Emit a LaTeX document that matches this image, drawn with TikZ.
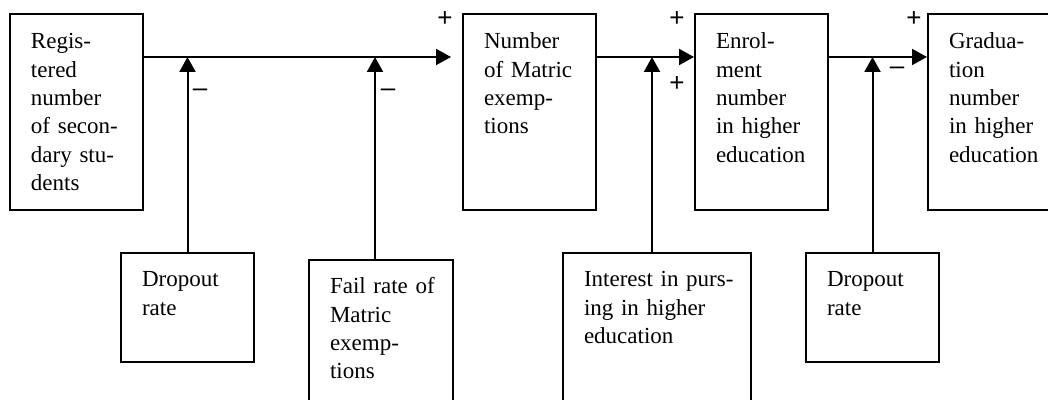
\documentclass[tikz,border=0pt]{standalone}
\usepackage{fontspec}
\setmainfont{Liberation Serif}
\newfontfamily\signfont{Liberation Sans}
\usetikzlibrary{arrows.meta}

\tikzset{
    box/.style={draw, line width=1pt, anchor=north west, align=left,
        inner xsep=10.5pt, inner ysep=0pt, text height=17pt,
        font=\fontsize{11.5}{14.15}\selectfont},
    stock/.style={box, text width=45.5pt, text height=17.5pt, text depth=80.5pt},
    factor/.style={box},
    link/.style={line width=1pt, -{Triangle[length=7.5pt,width=8pt]}},
    sign/.style={anchor=base, inner sep=0pt, font=\signfont\fontsize{13}{15}\selectfont},
}

\begin{document}
\begin{tikzpicture}[x=0.5pt,y=-0.5pt]
        \clip (0,0) rectangle (1048,400);
        %% stocks
        \node[stock] (reg) at (9,13) {Regis-\\tered\\number\\of~secon-\\dary~stu-\\dents};
        \node[stock] (mat) at (462,13) {Number\\of~Matric\\exemp-\\tions};
        \node[stock] (enr) at (694,13) {Enrol-\\ment\\number\\in~higher\\education};
        \node[stock] (grad) at (927,13) {Gradua-\\tion\\number\\in~higher\\education};
        %% factors
        \node[factor, text width=45.5pt, text depth=37.5pt] (drop1) at (120,252) {Dropout\\rate};
        \node[factor, text width=51pt, text depth=63pt] (fail) at (308,259) {\mbox{Fail rate of}\\Matric\\exemp-\\tions};
        \node[factor, text width=73pt, text depth=68pt] (interest) at (562,252) {\mbox{Interest in purs-}\\ing~in~higher\\education};
        \node[factor, text width=45.5pt, text depth=37.5pt] (drop2) at (805,252) {Dropout\\rate};
        %% main flow
        \coordinate (flow) at (0,57);
        \draw[link, shorten >=5.5pt] (reg.east |- flow) -- (mat.west |- flow);
        \draw[link] (mat.east |- flow) -- (enr.west |- flow);
        \draw[link] (enr.east |- flow) -- (grad.west |- flow);
        %% influences
        \coordinate (failtop) at ([xshift=-3pt]fail.north);
        \coordinate (interesttop) at ([xshift=-2.5pt]interest.north);
        \draw[link] (drop1.north) -- (drop1.north |- flow);
        \draw[link] (failtop) -- (failtop |- flow);
        \draw[link] (interesttop) -- (interesttop |- flow);
        \draw[link] (drop2.north) -- (drop2.north |- flow);
        %% signs
        \foreach \x/\y [count=\i] in {445/27, 677/27, 677/92, 914/27}
            \node[sign] (plus\i) at (\x,\y) {+};
        \foreach \x/\y [count=\i] in {200/97, 388/97, 897/75}
            \node[sign] (minus\i) at (\x,\y) {–};
    \end{tikzpicture}
\end{document}
